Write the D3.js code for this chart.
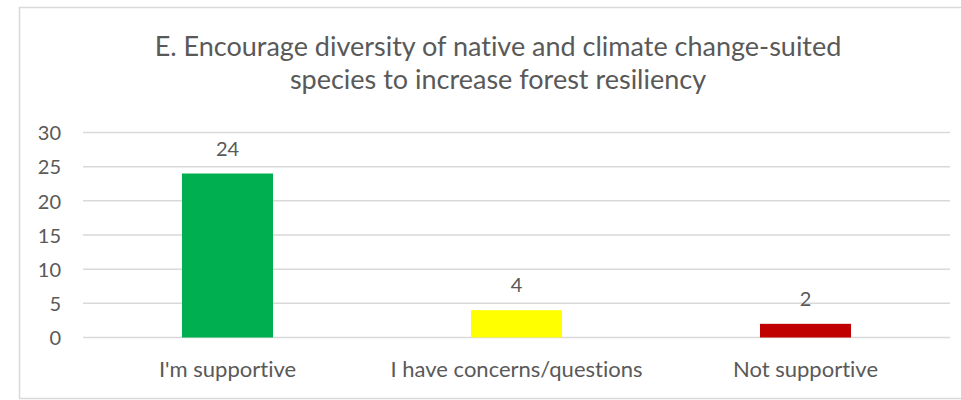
<!DOCTYPE html>
<html>
<head>
<meta charset="utf-8">
<script src="https://cdn.jsdelivr.net/npm/d3@7"></script>
<style>
  html, body { margin: 0; padding: 0; background: #fff; }
  svg { display: block; }
  text { font-family: Lato, "Open Sans", sans-serif; fill: #595959; font-variant-ligatures: none; font-feature-settings: "liga" 0, "clig" 0; }
</style>
</head>
<body>
<svg id="chart" width="961" height="400"></svg>
<script>
const categories = ["I'm supportive", "I have concerns/questions", "Not supportive"];
const values = [24, 4, 2];
const barColors = ["#00b050", "#ffff00", "#c00000"];
const yTicks = [0, 5, 10, 15, 20, 25, 30];
const titleLines = ["E. Encourage diversity of native and climate change-suited", "species to increase forest resiliency"];

const svg = d3.select("#chart");

// outer frame
svg.append("rect")
  .attr("x", 19.5).attr("y", 7.5)
  .attr("width", 980).attr("height", 391)
  .attr("fill", "#fff").attr("stroke", "#d9d9d9").attr("stroke-width", 1.5);

const plot = { left: 83, right: 950, top: 132.5, bottom: 337.5 };

const x = d3.scaleBand().domain(categories).range([plot.left, plot.right]).paddingInner(0).paddingOuter(0);
const y = d3.scaleLinear().domain([0, 30]).range([plot.bottom, plot.top]);

// gridlines
svg.append("g").selectAll("line").data(yTicks).join("line")
  .attr("x1", plot.left).attr("x2", plot.right)
  .attr("y1", d => y(d)).attr("y2", d => y(d))
  .attr("stroke", "#d9d9d9").attr("stroke-width", 1.5);

// y-axis labels
const yAxis = d3.axisLeft(y).tickValues(yTicks).tickSize(0).tickPadding(0);
const gy = svg.append("g").attr("transform", `translate(61,0)`).call(yAxis);
gy.select(".domain").remove();
gy.selectAll("text")
  .attr("font-size", 20).attr("fill", "#595959")
  .style("font-family", "Lato, 'Open Sans', sans-serif")
  .attr("dy", "0.36em");

// bars
const barW = x.bandwidth() * 0.315;
svg.append("g").selectAll("rect").data(values).join("rect")
  .attr("x", (d, i) => x(categories[i]) + x.bandwidth() / 2 - barW / 2)
  .attr("width", barW)
  .attr("y", d => y(d))
  .attr("height", d => y(0) - y(d))
  .attr("fill", (d, i) => barColors[i]);

// data labels
svg.append("g").selectAll("text").data(values).join("text")
  .attr("x", (d, i) => x(categories[i]) + x.bandwidth() / 2)
  .attr("y", d => y(d) - 18)
  .attr("text-anchor", "middle")
  .attr("font-size", 20)
  .text(d => d);

// x-axis category labels
const xAxis = d3.axisBottom(x).tickSize(0).tickPadding(0);
const gx = svg.append("g").attr("transform", `translate(0,${plot.bottom})`).call(xAxis);
gx.select(".domain").remove();
gx.selectAll("text")
  .attr("font-size", 22).attr("fill", "#595959")
  .style("font-family", "Lato, 'Open Sans', sans-serif")
  .attr("y", 39).attr("dy", 0);

// title
svg.append("g").selectAll("text").data(titleLines).join("text")
  .attr("x", 498)
  .attr("y", (d, i) => 56 + i * 33)
  .attr("text-anchor", "middle")
  .attr("font-size", 27)
  .text(d => d);
</script>
</body>
</html>
